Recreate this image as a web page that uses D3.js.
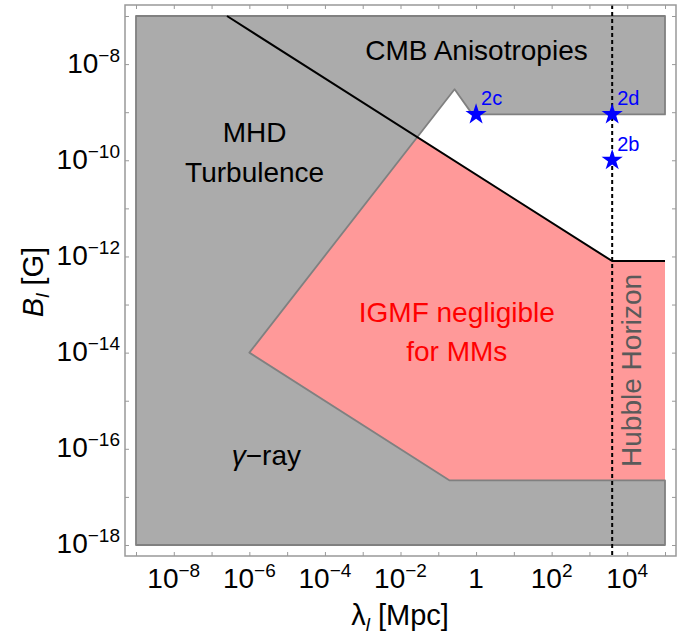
<!DOCTYPE html>
<html>
<head>
<meta charset="utf-8">
<script src="https://cdn.jsdelivr.net/npm/d3@7"></script>
<style>
  body { margin: 0; background: #fff; }
  svg { font-family: "Liberation Sans", Arial, sans-serif; }
</style>
</head>
<body>
<svg id="canvas" width="699" height="640"></svg>
<script>
// data (lambda in Mpc, B in G)
var grayRegion = [[1e-9, 1e-7], [1e5, 1e-7], [1e5, 9e-10], [0.8, 9e-10], [0.27, 3e-9],
  [1e-6, 1e-14], [0.2, 2.2e-17], [1e5, 2.2e-17], [1e5, 1e-18], [1e-9, 1e-18]];
var redRegion = [[1e-6, 1e-14], [0.0282, 3.09e-10], [4000, 8e-13], [1e5, 8e-13],
  [1e5, 2.2e-17], [0.2, 2.2e-17]];
var boundLine = [[2.56e-7, 1e-7], [4000, 8e-13], [1e5, 8e-13]];
var hubbleX = 4000;
var stars = [{name: '2c', x: 1, y: 9e-10}, {name: '2d', x: 4000, y: 9e-10}, {name: '2b', x: 4000, y: 1e-10}];
var xTicks = d3.range(-9, 6).map(function(e) { return Math.pow(10, e); });
var xLabelExp = [-8, -6, -4, -2, 0, 2, 4];
var yTicks = d3.range(-18, -6).map(function(e) { return Math.pow(10, e); });
var yLabelExp = [-18, -16, -14, -12, -10, -8];

var svg = d3.select('svg#canvas');
var pLeft = 125, pRight = 676, pTop = 5, pBottom = 556;

var x = d3.scaleLog().domain([Math.pow(10, -9.291), Math.pow(10, 5.291)]).range([pLeft, pRight]);
var y = d3.scaleLog().domain([Math.pow(10, -18.229), Math.pow(10, -6.771)]).range([pBottom, pTop]);

var line = d3.line().x(function(d) { return x(d[0]); }).y(function(d) { return y(d[1]); });

svg.append('path').attr('d', line(redRegion) + 'Z').attr('fill', '#ff9999');
svg.append('path').attr('d', line(grayRegion) + 'Z')
  .attr('fill', '#ababab').attr('stroke', '#808080').attr('stroke-width', 1.8)
  .attr('stroke-linejoin', 'round');
svg.append('path').attr('d', line(boundLine)).attr('fill', 'none')
  .attr('stroke', '#000').attr('stroke-width', 2);

// hubble horizon
svg.append('line')
  .attr('x1', x(hubbleX)).attr('x2', x(hubbleX))
  .attr('y1', pTop).attr('y2', pBottom)
  .attr('stroke', '#000').attr('stroke-width', 2).attr('stroke-dasharray', '4,3');

// frame + ticks
function tickAxis(axis, scale, vals, tx, ty) {
  svg.append('g').attr('transform', 'translate(' + tx + ',' + ty + ')')
    .call(axis(scale).tickValues(vals).tickSizeInner(-4).tickSizeOuter(0).tickFormat(function() { return ''; }))
    .call(function(g) { g.select('.domain').remove(); g.selectAll('line').attr('stroke', '#999'); });
}
tickAxis(d3.axisBottom, x, xTicks, 0, pBottom);
tickAxis(d3.axisTop, x, xTicks, 0, pTop);
tickAxis(d3.axisLeft, y, yTicks, pLeft, 0);
tickAxis(d3.axisRight, y, yTicks, pRight, 0);

svg.append('rect').attr('x', pLeft).attr('y', pTop).attr('width', pRight - pLeft).attr('height', pBottom - pTop)
  .attr('fill', 'none').attr('stroke', '#999').attr('stroke-width', 1.5);

function powLabel(sel, e) {
  if (e === 0) { sel.text('1'); return; }
  sel.append('tspan').text('10');
  sel.append('tspan').attr('font-size', 19).attr('dy', -11).text(e < 0 ? '\u2212' + (-e) : e);
}

svg.append('g').selectAll('text').data(xLabelExp).join('text')
  .attr('x', function(d) { return x(Math.pow(10, d)); }).attr('y', 588)
  .attr('text-anchor', 'middle').attr('font-size', 28)
  .each(function(d) { powLabel(d3.select(this), d); });

svg.append('g').selectAll('text').data(yLabelExp).join('text')
  .attr('x', 120).attr('y', function(d) { return y(Math.pow(10, d)) + 8.5; })
  .attr('text-anchor', 'end').attr('font-size', 28)
  .each(function(d) { powLabel(d3.select(this), d); });

// axis titles
var xt = svg.append('text').attr('x', 400).attr('y', 625).attr('text-anchor', 'middle').attr('font-size', 29);
xt.append('tspan').text('\u03bb');
xt.append('tspan').attr('font-size', 19).attr('font-style', 'italic').attr('dy', 6).text('l');
xt.append('tspan').attr('dy', -6).text(' [Mpc]');

var yt = svg.append('text').attr('transform', 'translate(43,282) rotate(-90)').attr('text-anchor', 'middle').attr('font-size', 29);
yt.append('tspan').attr('font-style', 'italic').text('B');
yt.append('tspan').attr('font-size', 19).attr('font-style', 'italic').attr('dy', 6).text('l');
yt.append('tspan').attr('dy', -6).text(' [G]');

// region labels (data coords)
var labels = [
  {t: 'MHD', x: -5.86, y: -9.63, c: '#000'},
  {t: 'Turbulence', x: -5.86, y: -10.45, c: '#000'},
  {t: 'CMB Anisotropies', x: 0.01, y: -7.91, c: '#000'},
  {t: 'IGMF negligible', x: -0.51, y: -13.37, c: '#ff0000'},
  {t: 'for MMs', x: -0.51, y: -14.17, c: '#ff0000'}
];
svg.append('g').selectAll('text').data(labels).join('text')
  .attr('x', function(d) { return x(Math.pow(10, d.x)); })
  .attr('y', function(d) { return y(Math.pow(10, d.y)); })
  .attr('text-anchor', 'middle').attr('font-size', 28).attr('fill', function(d) { return d.c; })
  .text(function(d) { return d.t; });

var gr = svg.append('text').attr('x', x(Math.pow(10, -5.55))).attr('y', y(Math.pow(10, -16.34)))
  .attr('text-anchor', 'middle').attr('font-size', 28);
gr.append('tspan').attr('font-style', 'italic').text('\u03b3');
gr.append('tspan').text('\u2212ray');

svg.append('text')
  .attr('transform', 'translate(' + x(Math.pow(10, 4.36)) + ',' + y(Math.pow(10, -14.37)) + ') rotate(-90)')
  .attr('text-anchor', 'middle').attr('font-size', 28).attr('fill', '#5a5a5a')
  .text('Hubble Horizon');

// stars
var star = d3.symbol().type(d3.symbolStar).size(140);
svg.append('g').selectAll('path').data(stars).join('path')
  .attr('d', star)
  .attr('transform', function(d) { return 'translate(' + x(d.x) + ',' + y(d.y) + ')'; })
  .attr('fill', '#0000ff');
svg.append('g').selectAll('text').data(stars).join('text')
  .attr('x', function(d) { return x(d.x) + 5; })
  .attr('y', function(d) { return y(d.y) - 9; })
  .attr('font-size', 20).attr('fill', '#0000ff')
  .text(function(d) { return d.name; });
</script>
</body>
</html>
